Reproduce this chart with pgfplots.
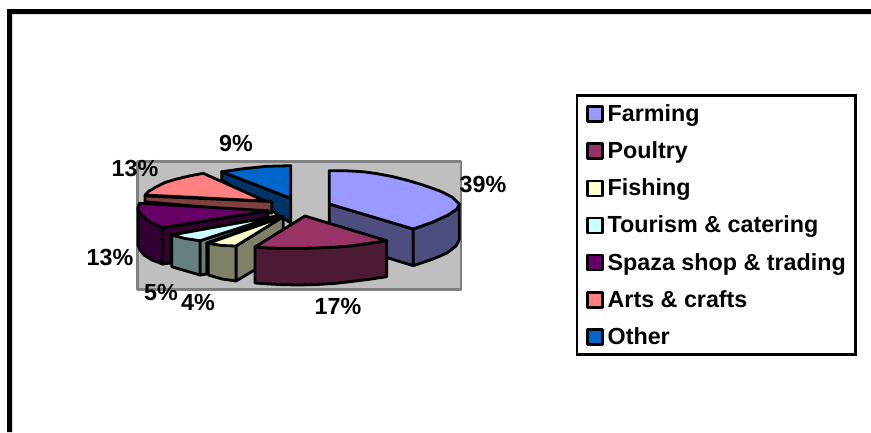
\documentclass[border=0pt]{standalone}
\usepackage{fontspec}
\setmainfont{Liberation Sans}
\usepackage{pgfplots}
\pgfplotsset{compat=1.18}
\definecolor{cA}{HTML}{9999FF}\definecolor{cAd}{HTML}{4D4D80}
\definecolor{cB}{HTML}{993366}\definecolor{cBd}{HTML}{4D1A33}
\definecolor{cC}{HTML}{FFFFCC}\definecolor{cCd}{HTML}{808066}
\definecolor{cD}{HTML}{CCFFFF}\definecolor{cDd}{HTML}{668080}
\definecolor{cE}{HTML}{660066}\definecolor{cEd}{HTML}{330033}
\definecolor{cF}{HTML}{FF8080}\definecolor{cFd}{HTML}{804040}
\definecolor{cG}{HTML}{0066CC}\definecolor{cGd}{HTML}{003366}
\begin{document}
\begin{tikzpicture}
\begin{axis}[
  scale only axis, width=871pt, height=432pt,
  xmin=0, xmax=871, ymin=0, ymax=432, y dir=reverse,
  axis lines=none, clip=true,
  legend cell align=left,
  legend image code/.code={\draw[#1,draw=black,line width=2.4pt] (0pt,-8pt) rectangle (15pt,7pt);},
  legend style={at={(axis cs:575.5,94)}, anchor=north west, draw=black, line width=2.5pt,
    fill=white, font=\fontsize{23.3}{27}\selectfont\bfseries,
    inner xsep=9.5pt, inner ysep=1pt, row sep=3pt, /tikz/column sep=4pt,
    nodes={inner sep=0pt, text height=25pt, text depth=9.2pt}},
  every axis plot/.append style={draw=black, line width=2.8pt, line join=round, forget plot},
]
\addlegendimage{fill=cA}\addlegendentry{Farming}
\addlegendimage{fill=cB}\addlegendentry{Poultry}
\addlegendimage{fill=cC}\addlegendentry{Fishing}
\addlegendimage{fill=cD}\addlegendentry{Tourism \& catering}
\addlegendimage{fill=cE}\addlegendentry{Spaza shop \& trading}
\addlegendimage{fill=cF}\addlegendentry{Arts \& crafts}
\addlegendimage{fill=cG}\addlegendentry{Other}
% page and frame
\addplot[fill=white,draw=none] coordinates {(0,0)(871,0)(871,432)(0,432)} --cycle;
\addplot[fill=black,draw=none] coordinates {(7,9)(871,9)(871,14)(12,14)(12,432)(7,432)} --cycle;
% plot area
\addplot[fill=black!25,draw=black!50,line width=2.4pt] coordinates {(137.5,161.5)(461,161.5)(461,289.5)(137.5,289.5)} --cycle;
% Other
\addplot[fill=cGd] coordinates {(221.7,171.7)(290.7,198.3)(290.7,223)(271,210)(221.7,180)} --cycle;
\addplot[fill=cG] coordinates {(290.7,165.7)(266.7,166.3)(243.3,168.7)(221.7,171.7)(290.7,198.3)} --cycle;
% Arts
\addplot[fill=cFd] coordinates {(145,196)(271.7,201.5)(271.7,213)(145,201.7)} --cycle;
\addplot[fill=cF] coordinates {(145,195)(149,191)(156,187)(165,182.5)(176.7,179)(190,175.8)(203.3,173.3)(265,201)} --cycle;
% Spaza
\addplot[fill=cEd] coordinates {(138,207)(138,245)(140,250)(144,255)(152,260)(162.7,264)(162.7,228)} --cycle;
\addplot[fill=cEd] coordinates {(162.7,228)(268,211)(268,217)(171,235)(171,263)(162.7,264)} --cycle;
\addplot[fill=cE] coordinates {(139.3,203.3)(138,209)(140,213)(143,216)(147,220)(152,223)(162.7,227.7)(268,210.7)} --cycle;
% Tourism
\addplot[fill=cDd] coordinates {(200,240.7)(276.7,216)(276.7,218)(206.7,243)(206.7,274)(200,275)} --cycle;
\addplot[fill=cDd] coordinates {(171.7,235)(171.7,266.7)(200,275)(200,240.7)} --cycle;
\addplot[fill=cD] coordinates {(171.7,235)(185,238.5)(200,240.7)(276.7,216)} --cycle;
% Fishing
\addplot[fill=cCd] coordinates {(236,246)(283.3,216.7)(283.3,253)(236,281)} --cycle;
\addplot[fill=cCd] coordinates {(208.3,243.3)(208.3,275)(222,279)(236,281)(236,246)} --cycle;
\addplot[fill=cC] coordinates {(208.3,243.3)(222,245.5)(236,246)(283.3,216.7)} --cycle;
% Farming
\addplot[fill=cAd] coordinates {(329.3,204)(413.3,229)(413.3,265.7)(329.3,240)} --cycle;
\addplot[fill=cAd] coordinates {(413.3,229)(433,222)(448,215)(457,209)(459.3,204)(459.3,240)(456,246)(447,253)(433,259)(413.3,265.7)} --cycle;
\addplot[fill=cA] coordinates {(329.3,170.7)(346,170.8)(363,171.7)(378,173.8)(393,176.7)(408,180.5)(423,185)(440,191)(452,197)(459.3,204)(457,209)(448,215)(433,222)(413.3,229)(329.3,204)} --cycle;
% Poultry
\addplot[fill=cBd] coordinates {(255,247)(255,283)(269,284)(283,284.7)(300,285)(316.7,284.5)(334,283.5)(350,281.7)(368,279.5)(386.7,276.7)(386.7,240.7)(368,243.5)(350,246)(334,247.2)(316.7,247.9)(300,248.3)(283,248.3)(269,248)} --cycle;
\addplot[fill=cB] coordinates {(255,247)(269,248)(283,248.3)(300,248.3)(316.7,247.9)(334,247.2)(350,246)(368,243.5)(386.7,240.7)(305,216)} --cycle;
% labels
\begin{scope}[every node/.style={font=\fontsize{23.3}{27}\selectfont\bfseries, text=black, inner sep=0pt}]
\node at (axis cs:483,184) {39\%};
\node at (axis cs:338,306) {17\%};
\node at (axis cs:198,302) {4\%};
\node at (axis cs:161,293) {5\%};
\node at (axis cs:110,257) {13\%};
\node at (axis cs:135,168) {13\%};
\node at (axis cs:236,143) {9\%};
\end{scope}
\end{axis}
\end{tikzpicture}
\end{document}
